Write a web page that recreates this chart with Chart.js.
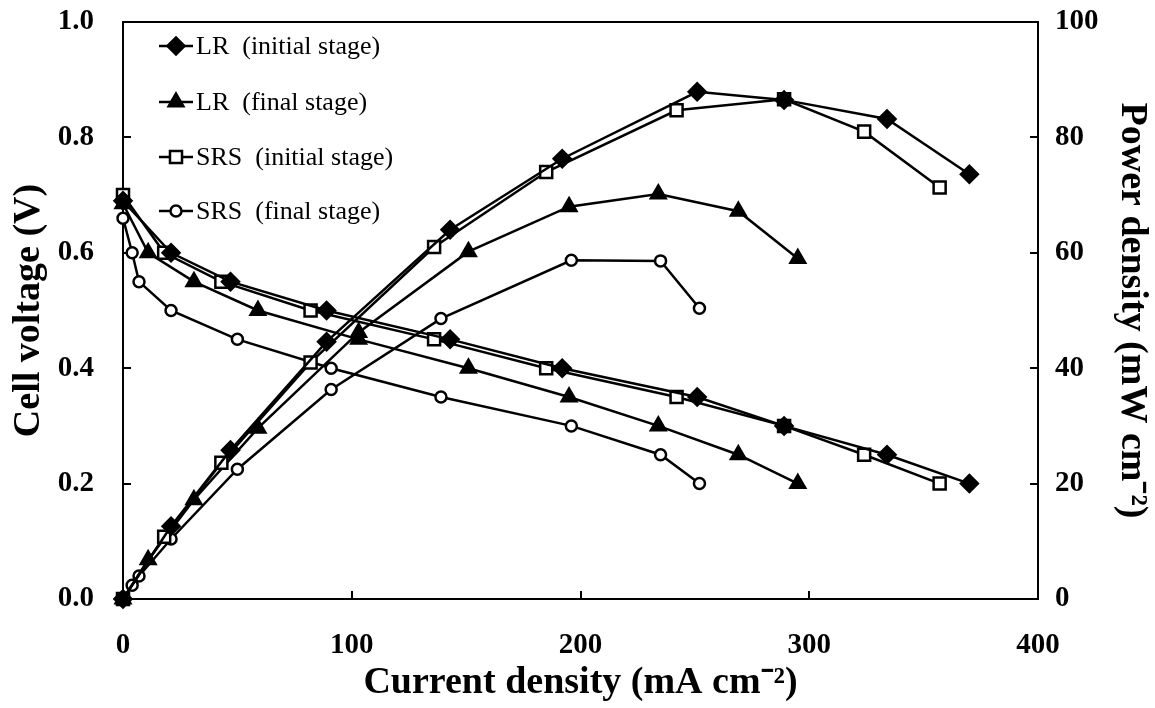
<!DOCTYPE html>
<html><head><meta charset="utf-8">
<script src="https://cdn.jsdelivr.net/npm/chart.js@4/dist/chart.umd.min.js"></script>
<style>html,body{margin:0;padding:0;background:#fff}#wrap{width:1155px;height:708px}</style>
</head><body><div id="wrap"><canvas id="c" width="1155" height="708"></canvas></div>
<script>
// ---- data ----
const currentLRi  = [0, 21, 47, 89, 143, 192, 251, 289, 334, 370];
const voltageLRi  = [0.69, 0.60, 0.55, 0.50, 0.45, 0.40, 0.35, 0.30, 0.25, 0.20];
const powerLRi    = [0, 12.6, 25.8, 44.6, 64.0, 76.3, 87.9, 86.5, 83.2, 73.6];

const currentLRf  = [0, 11, 31, 59, 103, 151, 195, 234, 269, 295];
const voltageLRf  = [0.685, 0.60, 0.55, 0.50, 0.45, 0.40, 0.35, 0.30, 0.25, 0.20];
const powerLRf    = [0, 6.8, 17.2, 29.6, 46.2, 60.2, 68.0, 70.2, 67.2, 59.0];

const currentSRSi = [0, 18, 43, 82, 136, 185, 242, 289, 324, 357];
const voltageSRSi = [0.70, 0.60, 0.55, 0.50, 0.45, 0.40, 0.35, 0.30, 0.25, 0.20];
const powerSRSi   = [0, 10.8, 23.6, 41.0, 61.0, 74.0, 84.7, 86.6, 81.0, 71.3];

const currentSRSf = [0, 4, 7, 21, 50, 91, 139, 196, 235, 252];
const voltageSRSf = [0.66, 0.60, 0.55, 0.50, 0.45, 0.40, 0.35, 0.30, 0.25, 0.20];
const powerSRSf   = [0, 2.4, 4.0, 10.4, 22.5, 36.3, 48.6, 58.7, 58.6, 50.4];

const seriesNames = ['LR  (initial stage)', 'LR  (final stage)', 'SRS  (initial stage)', 'SRS  (final stage)'];
const xTicks  = [0, 100, 200, 300, 400];
const yTicks  = [0, 0.2, 0.4, 0.6, 0.8, 1.0];
const y2Ticks = [0, 20, 40, 60, 80, 100];

const titleX  = 'Current density (mA cm\u207B\u00B2)';
const titleY  = 'Cell voltage (V)';
const titleY2 = 'Power density (mW cm\u207B\u00B2)';

// ---- helpers ----
function pts(xs, ys) { return xs.map((x, i) => ({x: x, y: ys[i]})); }

const styles = [
  {pointStyle: 'rectRot', radius: 8.5, fill: '#000'},
  {pointStyle: 'triangle', radius: 8.5, fill: '#000'},
  {pointStyle: 'rect', radius: 8.5, fill: '#fff'},
  {pointStyle: 'circle', radius: 5.5, fill: '#fff'}
];
function ds(data, si, axis, legend) {
  const s = styles[si];
  return {
    label: legend ? seriesNames[si] : '',
    series: si,
    data: data,
    yAxisID: axis,
    borderColor: '#000',
    borderWidth: 2.5,
    pointStyle: s.pointStyle,
    pointRadius: s.radius,
    pointBackgroundColor: s.fill,
    pointBorderColor: '#000',
    pointBorderWidth: 2.5,
    tension: 0,
    fill: false,
    clip: false
  };
}

// first dataset is drawn on top
const datasets = [
  ds(pts(currentLRi, voltageLRi), 0, 'y', true),
  ds(pts(currentLRi, powerLRi), 0, 'y2', false),
  ds(pts(currentSRSi, voltageSRSi), 2, 'y', true),
  ds(pts(currentSRSi, powerSRSi), 2, 'y2', false),
  ds(pts(currentLRf, voltageLRf), 1, 'y', true),
  ds(pts(currentLRf, powerLRf), 1, 'y2', false),
  ds(pts(currentSRSf, voltageSRSf), 3, 'y', true),
  ds(pts(currentSRSf, powerSRSf), 3, 'y2', false)
];

const SERIF = "'Liberation Serif', 'Times New Roman', serif";

const frame = {
  id: 'frame',
  beforeDatasetsDraw(chart) {
    const {ctx, chartArea: a} = chart;
    ctx.save();
    ctx.strokeStyle = '#000';
    ctx.lineWidth = 2;
    ctx.strokeRect(a.left, a.top, a.right - a.left, a.bottom - a.top);
    ctx.restore();
  }
};

const inlineLegend = {
  id: 'inlineLegend',
  afterDraw(chart) {
    const ctx = chart.ctx;
    const rows = [46, 102, 157, 211];
    const legendSets = chart.data.datasets.filter(d => d.label).sort((a, b) => a.series - b.series);
    ctx.save();
    legendSets.forEach((d, r) => {
      const y = rows[r];
      ctx.strokeStyle = '#000';
      ctx.lineWidth = 2.5;
      ctx.beginPath(); ctx.moveTo(159, y); ctx.lineTo(193, y); ctx.stroke();
      ctx.fillStyle = d.pointBackgroundColor;
      ctx.strokeStyle = '#000';
      ctx.lineWidth = 2.5;
      Chart.helpers.drawPoint(ctx, {pointStyle: d.pointStyle, radius: d.pointRadius, borderWidth: 2.5, rotation: 0}, 176, y);
      ctx.fillStyle = '#000';
      ctx.font = "26px " + SERIF;
      ctx.textBaseline = 'middle';
      ctx.textAlign = 'left';
      ctx.fillText(d.label, 196, y + 1);
    });
    ctx.restore();
  }
};

function noPad(s) { s.paddingTop = 0; s.paddingBottom = 0; s.paddingLeft = 0; s.paddingRight = 0; }

const tickFont = {family: SERIF, size: 29, weight: 'bold'};
const titleFont = {family: SERIF, size: 38, weight: 'bold'};

new Chart(document.getElementById('c'), {
  type: 'line',
  data: {datasets: datasets},
  plugins: [frame, inlineLegend],
  options: {
    responsive: false,
    animation: false,
    devicePixelRatio: 1,
    layout: {padding: {top: 22, left: 0, right: 0, bottom: 0}},
    plugins: {legend: {display: false}, tooltip: {enabled: false}},
    scales: {
      x: {
        type: 'linear', min: 0, max: 400,
        afterBuildTicks(s) { s.ticks = xTicks.map(v => ({value: v})); },
        afterFit(s) { s.height = 109; noPad(s); },
        grid: {drawOnChartArea: false, drawTicks: true, tickLength: -8, color: '#000', lineWidth: 2},
        border: {display: false},
        ticks: {color: '#000', font: tickFont, padding: 37, maxRotation: 0},
        title: {display: true, text: titleX, color: '#000', font: titleFont, padding: {top: 0, bottom: 2}}
      },
      y: {
        type: 'linear', position: 'left', min: 0, max: 1,
        afterBuildTicks(s) { s.ticks = yTicks.map(v => ({value: v})); },
        afterFit(s) { s.width = 123; noPad(s); },
        grid: {drawOnChartArea: false, drawTicks: true, tickLength: -8, color: '#000', lineWidth: 2},
        border: {display: false},
        ticks: {color: '#000', font: tickFont, padding: 37, callback: v => v.toFixed(1)},
        title: {display: true, text: titleY, color: '#000', font: titleFont, padding: {top: 6, bottom: 0}}
      },
      y2: {
        type: 'linear', position: 'right', min: 0, max: 100,
        afterBuildTicks(s) { s.ticks = y2Ticks.map(v => ({value: v})); },
        afterFit(s) { s.width = 117; noPad(s); },
        grid: {drawOnChartArea: false, drawTicks: true, tickLength: -8, color: '#000', lineWidth: 2},
        border: {display: false},
        ticks: {color: '#000', font: tickFont, padding: 25, callback: v => String(v)},
        title: {display: true, text: titleY2, color: '#000', font: titleFont, padding: {top: 0, bottom: 0}}
      }
    }
  }
});
</script>
</body></html>
